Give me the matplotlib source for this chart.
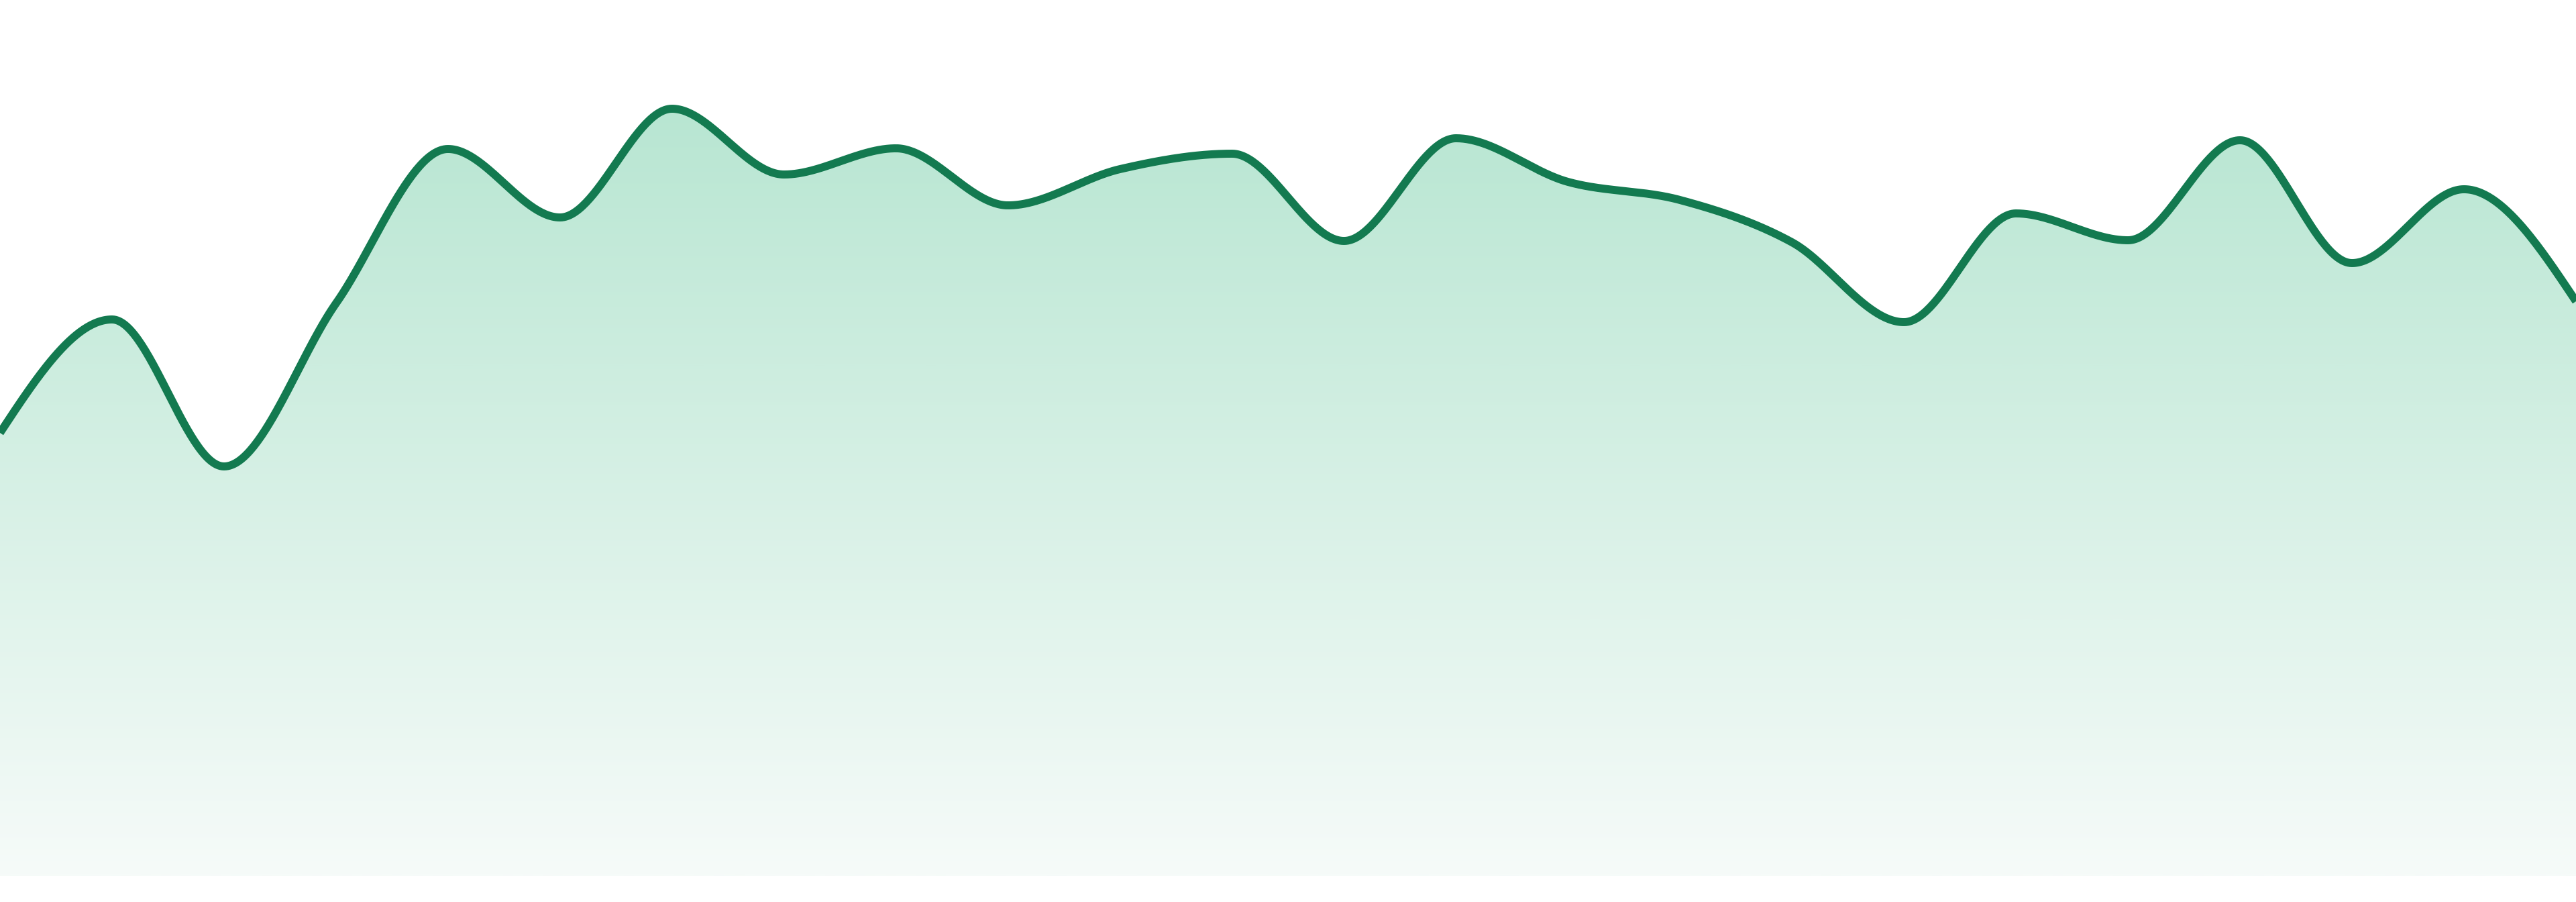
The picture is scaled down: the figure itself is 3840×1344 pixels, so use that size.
import numpy as np
import matplotlib
matplotlib.use('Agg')
import matplotlib.pyplot as plt
from matplotlib.colors import LinearSegmentedColormap

# values (arbitrary units, baseline 0)
values = [66.0, 82.9, 61.0, 85.3, 108.3, 98.1, 114.3, 104.5, 108.4, 99.9,
          105.3, 107.6, 94.6, 109.9, 103.4, 100.7, 94.4, 82.5, 98.7, 94.7,
          109.6, 91.3, 102.3, 85.6]
positions = list(range(len(values)))

Y_MAX = 130.5
LINE_COLOR = '#137a50'
FILL_TOP = '#b8e6d2'
FILL_BOTTOM = '#f6fbf9'


def monotone_x(x, y, n=60):
    # cubic hermite with d3 curveMonotoneX tangents
    x = np.asarray(x, float)
    y = np.asarray(y, float)
    h = np.diff(x)
    s = np.diff(y) / h
    t = np.zeros(len(x))
    for i in range(1, len(x) - 1):
        p = (s[i - 1] * h[i] + s[i] * h[i - 1]) / (h[i - 1] + h[i])
        t[i] = (np.sign(s[i - 1]) + np.sign(s[i])) * min(abs(s[i - 1]), abs(s[i]), 0.5 * abs(p))
    t[0] = (3 * s[0] - t[1]) / 2
    t[-1] = (3 * s[-1] - t[-2]) / 2
    xs, ys = [], []
    for i in range(len(x) - 1):
        u = np.linspace(0, 1, n, endpoint=(i == len(x) - 2))
        h00 = 2 * u**3 - 3 * u**2 + 1
        h10 = u**3 - 2 * u**2 + u
        h01 = -2 * u**3 + 3 * u**2
        h11 = u**3 - u**2
        xs.append(x[i] + u * h[i])
        ys.append(h00 * y[i] + h10 * h[i] * t[i] + h01 * y[i + 1] + h11 * h[i] * t[i + 1])
    return np.concatenate(xs), np.concatenate(ys)


fig = plt.figure(figsize=(38.4, 13.44), dpi=100)
ax = fig.add_axes([0, 39 / 1344, 1, 1305 / 1344])
ax.set_xlim(positions[0], positions[-1])
ax.set_ylim(0, Y_MAX)
ax.axis('off')

sx, sy = monotone_x(positions, values)

# gradient fill under the curve
top = max(values)
cmap = LinearSegmentedColormap.from_list('fade', [FILL_BOTTOM, FILL_TOP])
grad = np.linspace(0, 1, 512).reshape(-1, 1)
img = ax.imshow(grad, cmap=cmap, origin='lower', aspect='auto',
                extent=[positions[0], positions[-1], 0, top], zorder=1)
poly = ax.fill_between(sx, sy, 0, facecolor='none', edgecolor='none')
clip = poly.get_paths()[0]
img.set_clip_path(clip, transform=ax.transData)

ax.plot(sx, sy, color=LINE_COLOR, lw=8.6, solid_capstyle='butt', zorder=3)

fig.savefig('out.png', dpi=100, facecolor='white')
